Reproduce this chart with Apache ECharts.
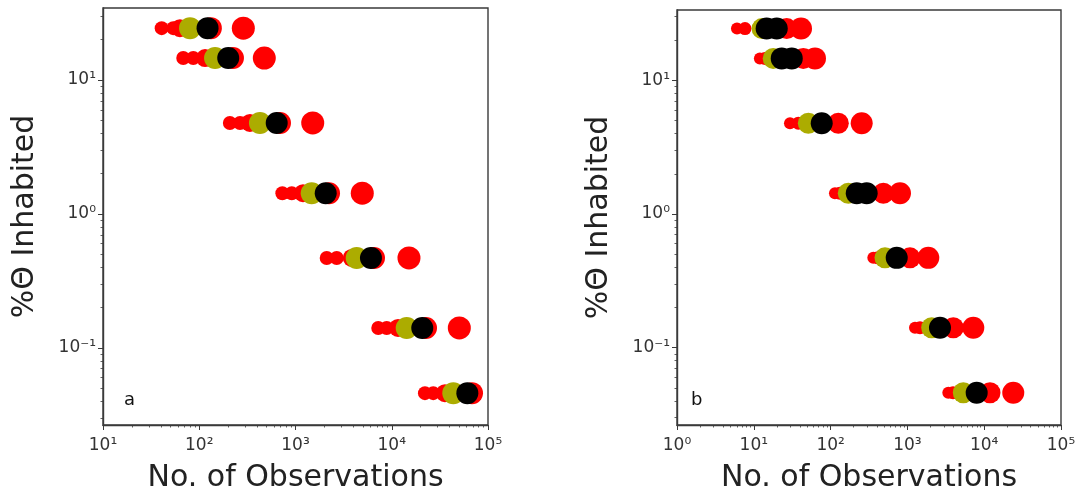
<!DOCTYPE html>
<html>
<head>
<meta charset="utf-8">
<script src="https://cdn.jsdelivr.net/npm/echarts@6/dist/echarts.min.js"></script>
<style>
html,body{margin:0;padding:0;background:#fff;}
#chart{width:1082px;height:498px;}
</style>
</head>
<body>
<div id="chart"></div>
<script>
// ---- data ----
const pctInhabited = [24.4, 14.6, 4.78, 1.43, 0.47, 0.141, 0.046];

// panel a
const aRedSmall1 = [40.7, 68.2, 208, 730, 2110, 7245, 22130];
const aRedSmall2 = [53.7, 86.7, 265, 914, 2680, 8865, 27000];
const aRedMid    = [63, 115, 336, 1197, 3840, 11620, 35700];
const aRedNear   = [132, 224, 690, 2230, 6540, 22700, 68200];
const aRedFar    = [287, 474, 1510, 4940, 15100, 50350, null];
const aOlive     = [80.2, 146, 427, 1473, 4325, 14300, 43600];
const aBlack     = [122, 200, 638, 2060, 6080, 20750, 61000];
const aBlack2    = [null, null, null, null, null, null, null];

// panel b
const bRedSmall1 = [6.04, 12.0, 29.6, 114, 360, 1256, 3410];
const bRedSmall2 = [7.68, 14.0, 38.0, 132, 414, 1459, 3926];
const bRedMid    = [null, null, null, null, null, null, null];
const bRedNear   = [26.8, 44.1, 126, 486, 1081, 3960, 11900];
const bRedFar    = [41.2, 62.6, 254, 801, 1870, 7210, 23900];
const bOlive     = [12.8, 17.9, 51.3, 170, 511, 2071, 5345];
const bBlack     = [14.7, 23.1, 76.6, 219, 726, 2656, 7985];
const bBlack2    = [19.9, 31.2, null, 295, null, null, null];

// ticks
const xTicksA = [10, 100, 1000, 10000, 100000];
const xTickLabelsA = ['10¹', '10²', '10³', '10⁴', '10⁵'];
const xTicksB = [1, 10, 100, 1000, 10000, 100000];
const xTickLabelsB = ['10⁰', '10¹', '10²', '10³', '10⁴', '10⁵'];
const yTicks = [0.1, 1, 10];
const yTickLabels = ['10⁻¹', '10⁰', '10¹'];
const panelLabels = ['a', 'b'];
const xTitle = 'No. of Observations';
const yTitle = '%Θ Inhabited';

// ---- build ----
function minorValues(lo, hi) {
  const out = [];
  for (let e = Math.floor(Math.log10(lo)); e <= Math.ceil(Math.log10(hi)); e++) {
    for (let m = 2; m <= 9; m++) {
      const v = m * Math.pow(10, e);
      if (v > lo && v < hi) out.push(v);
    }
  }
  return out;
}
function labelFor(ticks, labels) {
  return function (v) {
    for (let i = 0; i < ticks.length; i++) {
      if (Math.abs(Math.log10(v) - Math.log10(ticks[i])) < 1e-6) return labels[i];
    }
    return '';
  };
}

const FONT = 'DejaVu Sans';
const AX = '#3a3a3a';

const panels = [
  { xmin: 10, xmax: 1e5, ymin: 0.0266, ymax: 34.5, xt: xTicksA, xl: xTickLabelsA,
    grid: { left: 103, top: 8, width: 385, height: 417 },
    s: [aRedSmall1, aRedSmall2, aRedMid, aRedNear, aRedFar, aOlive, aBlack, aBlack2],
    sizes: [14, 14, 18, 22, 23, 22, 22, 22] },
  { xmin: 1, xmax: 1e5, ymin: 0.0264, ymax: 33.6, xt: xTicksB, xl: xTickLabelsB,
    grid: { left: 677, top: 10, width: 384, height: 421 },
    s: [bRedSmall1, bRedSmall2, bRedMid, bRedNear, bRedFar, bOlive, bBlack, bBlack2],
    sizes: [12, 13, 18, 21, 22, 21, 22, 22] }
];

const colors = ['#ff0000', '#ff0000', '#ff0000', '#ff0000', '#ff0000', '#acac00', '#000000', '#000000'];

const grid = [], xAxis = [], yAxis = [], series = [], graphic = [];
panels.forEach((p, gi) => {
  grid.push(Object.assign({ show: true, borderColor: AX, borderWidth: 1.4, backgroundColor: 'transparent' }, p.grid));
  xAxis.push({
    type: 'log', logBase: 10, gridIndex: gi, min: p.xmin, max: p.xmax,
    name: xTitle, nameLocation: 'middle', nameGap: 38,
    nameTextStyle: { fontFamily: FONT, fontSize: 30, color: '#222' },
    axisLine: { show: true, lineStyle: { color: AX, width: 1.4 } },
    axisTick: { show: true, length: 5, lineStyle: { color: AX, width: 1 }, customValues: p.xt },
    axisLabel: { show: true, customValues: p.xt, formatter: labelFor(p.xt, p.xl), margin: 12,
      fontFamily: FONT, fontSize: 17, color: '#333' },
    minorTick: { show: false }, splitLine: { show: false }
  });
  xAxis.push({
    type: 'log', logBase: 10, gridIndex: gi, min: p.xmin, max: p.xmax, position: 'bottom',
    axisLine: { show: false },
    axisTick: { show: true, length: 2.5, lineStyle: { color: AX, width: 0.8 }, customValues: minorValues(p.xmin, p.xmax) },
    axisLabel: { show: false }, splitLine: { show: false }
  });
  yAxis.push({
    type: 'log', logBase: 10, gridIndex: gi, min: p.ymin, max: p.ymax,
    name: yTitle, nameLocation: 'middle', nameGap: 63, nameRotate: 90,
    nameTextStyle: { fontFamily: FONT, fontSize: 30, color: '#222' },
    axisLine: { show: true, lineStyle: { color: AX, width: 1.4 } },
    axisTick: { show: true, length: 5, lineStyle: { color: AX, width: 1 }, customValues: yTicks },
    axisLabel: { show: true, customValues: yTicks, formatter: labelFor(yTicks, yTickLabels), margin: 7,
      fontFamily: FONT, fontSize: 17, color: '#333' },
    splitLine: { show: false }
  });
  yAxis.push({
    type: 'log', logBase: 10, gridIndex: gi, min: p.ymin, max: p.ymax, position: 'left',
    axisLine: { show: false },
    axisTick: { show: true, length: 2.5, lineStyle: { color: AX, width: 0.8 }, customValues: minorValues(p.ymin, p.ymax) },
    axisLabel: { show: false }, splitLine: { show: false }
  });
  p.s.forEach((arr, si) => {
    const data = [];
    arr.forEach((x, i) => { if (x != null) data.push([x, pctInhabited[i]]); });
    series.push({
      type: 'scatter', xAxisIndex: gi * 2, yAxisIndex: gi * 2, data: data,
      symbol: 'circle', symbolSize: p.sizes[si],
      itemStyle: { color: colors[si], opacity: 1 },
      z: 2 + si, silent: true, clip: true
    });
  });
  graphic.push({
    type: 'text', left: p.grid.left + (gi === 0 ? 21 : 14), top: 391,
    style: { text: panelLabels[gi], font: '18px "DejaVu Sans"', fill: '#111' }
  });
});

const chart = echarts.init(document.getElementById('chart'), null, { renderer: 'canvas' });
chart.setOption({
  animation: false,
  backgroundColor: '#ffffff',
  grid, xAxis, yAxis, series, graphic
});
</script>
</body>
</html>
